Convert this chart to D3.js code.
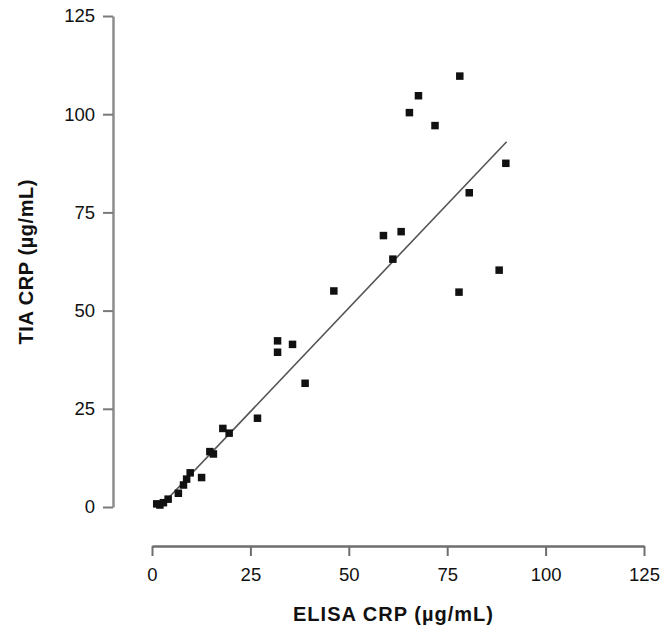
<!doctype html>
<html lang="en">
  <head>
    <meta charset="utf-8">
    <title>TIA CRP vs ELISA CRP</title>
    <script src="https://d3js.org/d3.v7.min.js"></script>
    <style>
      body { margin: 0; background: #fff; }
      svg text { font-family: "Liberation Sans", Arial, Helvetica, sans-serif; }
      .tick-label { font-size: 18.5px; fill: #111; }
      .axis-title { font-size: 20px; font-weight: bold; fill: #111; }
    </style>
  </head>
  <body>
    <div id="chart"></div>
    <script>
      // data (ELISA CRP on x, TIA CRP on y, both µg/mL)
      const elisa = [1.2, 2.0, 2.9, 4.1, 6.7, 8.0, 8.8, 9.7, 12.6, 14.7, 15.6, 18.0, 19.6, 26.8,
                     31.9, 31.9, 35.7, 38.9, 46.2, 58.8, 61.2, 63.3, 65.4, 67.7, 71.9, 78.2,
                     78.0, 80.6, 88.2, 89.9];
      const tia = [0.8, 0.5, 1.1, 2.0, 3.5, 5.6, 7.1, 8.7, 7.5, 14.1, 13.5, 20.0, 18.8, 22.6,
                   42.3, 39.4, 41.4, 31.5, 55.0, 69.1, 63.1, 70.1, 100.4, 104.7, 97.1, 109.7,
                   54.7, 80.0, 60.3, 87.5];
      // regression line end points
      const fitX = [2.0, 90.1];
      const fitY = [0.0, 93.0];
      const xTicks = [0, 25, 50, 75, 100, 125];
      const yTicks = [0, 25, 50, 75, 100, 125];

      const width = 660, height = 630;

      const svg = d3.select("#chart")
        .append("svg")
        .attr("width", width)
        .attr("height", height);

      const x = d3.scaleLinear().domain([0, 125]).range([152, 644]);
      const y = d3.scaleLinear().domain([0, 125]).range([507, 16]);

      // Y axis
      const yAxis = svg.append("g")
        .attr("transform", "translate(113,0)")
        .call(d3.axisLeft(y).tickValues(yTicks).tickSize(10).tickPadding(8).tickSizeOuter(0));
      yAxis.select(".domain").attr("stroke", "#8c8c8c").attr("stroke-width", 2.5);
      yAxis.selectAll(".tick line").attr("stroke", "#7a7a7a").attr("stroke-width", 2);
      yAxis.selectAll(".tick text").attr("class", "tick-label").attr("font-family", null).attr("font-size", null);

      // X axis
      const xAxis = svg.append("g")
        .attr("transform", "translate(0,546)")
        .call(d3.axisBottom(x).tickValues(xTicks).tickSize(10).tickPadding(12).tickSizeOuter(0));
      xAxis.select(".domain").attr("stroke", "#6e6e6e").attr("stroke-width", 2.5);
      xAxis.selectAll(".tick line").attr("stroke", "#6e6e6e").attr("stroke-width", 2);
      xAxis.selectAll(".tick text").attr("class", "tick-label").attr("font-family", null).attr("font-size", null);

      // axis titles
      svg.append("text")
        .attr("class", "axis-title")
        .attr("x", 393)
        .attr("y", 621)
        .attr("text-anchor", "middle")
        .attr("textLength", 200)
        .attr("lengthAdjust", "spacing")
        .text("ELISA CRP (µg/mL)");

      svg.append("text")
        .attr("class", "axis-title")
        .attr("transform", "translate(33,262) rotate(-90)")
        .attr("text-anchor", "middle")
        .attr("textLength", 165)
        .attr("lengthAdjust", "spacing")
        .text("TIA CRP (µg/mL)");

      // regression line
      svg.append("line")
        .attr("x1", x(fitX[0])).attr("y1", y(fitY[0]))
        .attr("x2", x(fitX[1])).attr("y2", y(fitY[1]))
        .attr("stroke", "#555")
        .attr("stroke-width", 1.6);

      // points
      const s = 7.5;
      svg.append("g")
        .selectAll("rect")
        .data(elisa)
        .join("rect")
          .attr("x", (d) => x(d) - s / 2)
          .attr("y", (d, i) => y(tia[i]) - s / 2)
          .attr("width", s)
          .attr("height", s)
          .attr("fill", "#111");
    </script>
  </body>
</html>
